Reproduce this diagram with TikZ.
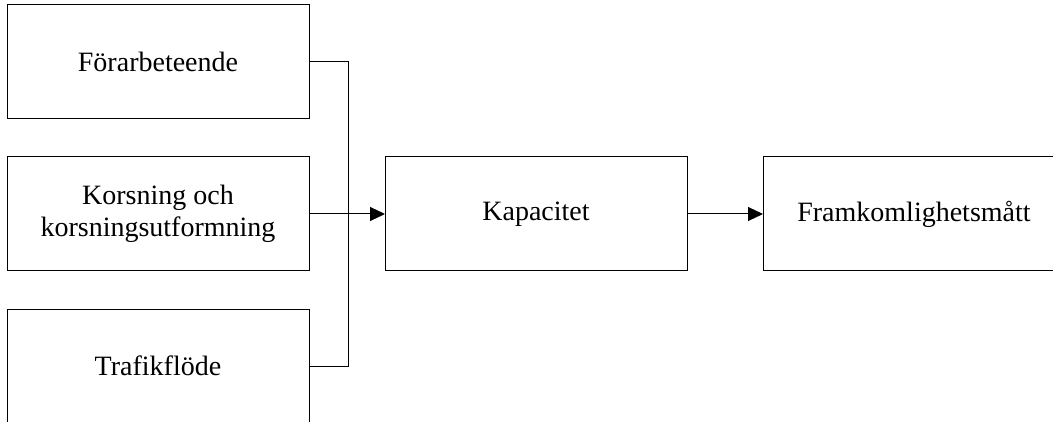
\documentclass[tikz,border=0pt]{standalone}
\usepackage{fontspec}
\setmainfont{Liberation Serif}
\usetikzlibrary{positioning,arrows.meta}
\tikzset{>={Triangle[length=15pt,width=14pt]}}
\tikzset{block/.style={draw,line width=1pt,rectangle,outer sep=0pt,
    minimum width=302pt,minimum height=114pt,align=center,
    font=\fontsize{28}{32}\selectfont}}

\begin{document}
\begin{tikzpicture}[x=1pt,y=1pt,line width=1pt,node distance=38pt and 76pt]
    \useasboundingbox (0,0) rectangle (1053,421);
    \clip (0,0) rectangle (1053,421);
    \node[block] (forar) at (158,359) {Förarbeteende};
    \node[block] (korsning) [below=of forar] {Korsning och\\korsningsutformning};
    \node[block] (trafik) [below=of korsning] {Trafikflöde};
    \node[block] (kap) [right=of korsning] {Kapacitet};
    \node[block] (fram) [right=of kap] {Framkomlighetsmått};
    \coordinate (busx) at (348.5,0);
    \coordinate (bus) at (busx |- korsning.east); %samlingslinje
    \draw (forar.east) -| (bus) |- (trafik.east);
    \draw[->] (korsning.east) -- (kap.west);
    \draw[->] (kap.east) -- (fram.west);
\end{tikzpicture}
\end{document}
